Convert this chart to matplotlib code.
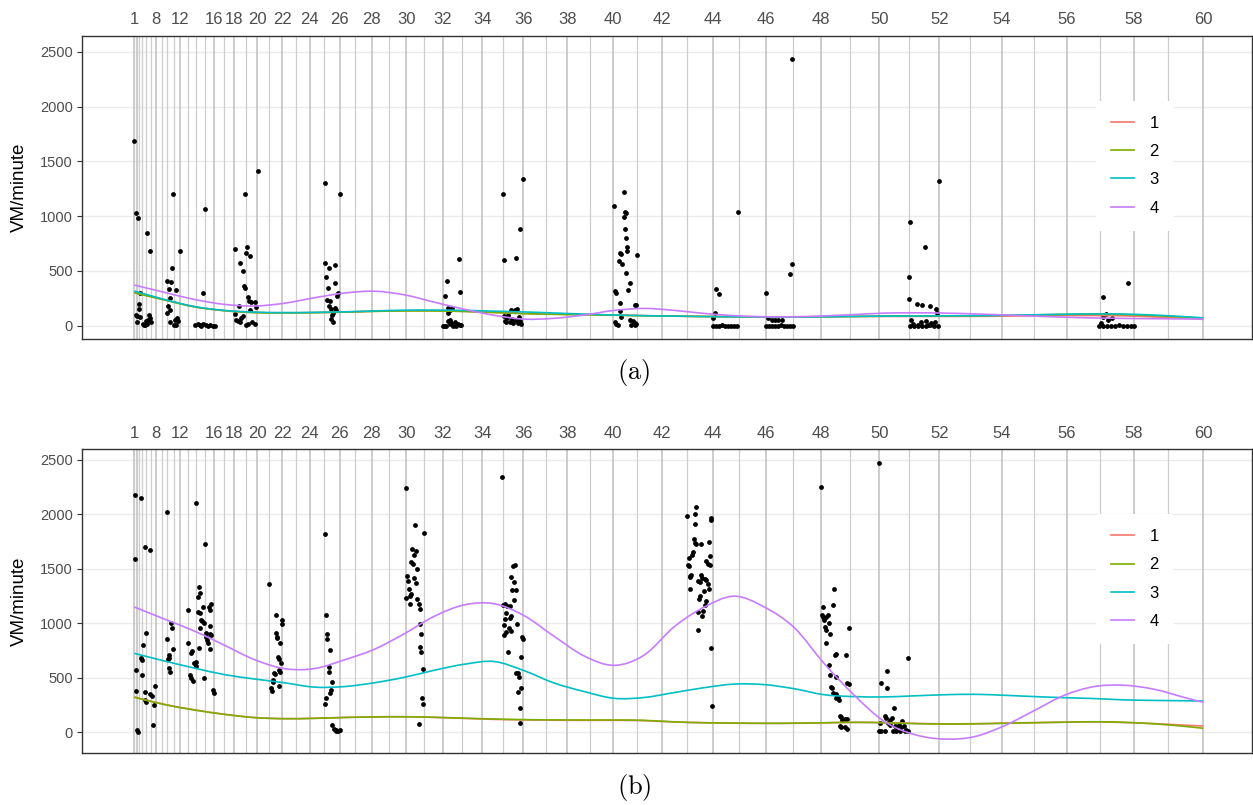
import matplotlib
matplotlib.use("Agg")
import matplotlib.pyplot as plt
from matplotlib.path import Path
from matplotlib.patches import PathPatch
from matplotlib.lines import Line2D

plt.rcParams['font.family'] = ['Liberation Sans', 'DejaVu Sans']
plt.rcParams['mathtext.fontset'] = 'cm'

# session times (days since session 1), sessions 1..60
session_day = [0.0, 0.13, 0.29, 0.49, 0.77, 1.17, 1.67, 2.17, 2.74, 3.30,
               3.94, 4.57, 5.34, 6.20, 7.07, 8.00, 9.00, 10.00, 11.14, 12.30,
               13.50, 14.80, 16.14, 17.54, 19.00, 20.54, 22.10, 23.74, 25.44, 27.20,
               29.00, 30.87, 32.80, 34.80, 36.84, 38.90, 41.14, 43.30, 45.57, 47.90,
               50.30, 52.77, 55.30, 57.84, 60.50, 63.17, 65.84, 68.64, 71.57, 74.50,
               77.50, 80.50, 83.57, 86.74, 89.97, 93.24, 96.57, 99.97, 103.40, 106.90]
label_sessions = [1, 8, 12, 16, 18, 20, 22, 24, 26, 28, 30, 32, 34, 36, 38, 40,
                  42, 44, 46, 48, 50, 52, 54, 56, 58, 60]

# smoothed curves, evaluated on curve_day
curve_day = [0, 3, 6, 9, 12, 15, 18, 21, 24, 27, 30, 33, 36, 39, 42, 45, 48, 51,
             54, 57, 60, 63, 66, 69, 72, 75, 78, 81, 84, 87, 90, 93, 96, 99, 102,
             105, 106.9]

a_curve1 = [305, 238, 174, 138, 121, 118, 120, 125, 132, 136, 136, 131, 122, 112,
            105, 101, 97, 92, 88, 85, 83, 81, 81, 82, 84, 85, 85, 85, 86, 88, 90,
            92, 93, 90, 80, 68, 58]
a_curve2 = [300, 235, 172, 137, 120, 117, 119, 124, 131, 135, 135, 130, 120, 110,
            104, 100, 96, 91, 87, 84, 82, 80, 80, 82, 85, 87, 88, 89, 91, 95, 99,
            103, 105, 102, 92, 78, 66]
a_curve3 = [316, 240, 175, 140, 124, 120, 122, 127, 135, 142, 143, 140, 133, 126,
            116, 106, 98, 92, 88, 84, 82, 80, 80, 82, 85, 88, 89, 90, 92, 95, 100,
            105, 108, 106, 97, 83, 72]
a_curve4 = [371, 305, 240, 195, 180, 205, 255, 298, 315, 282, 215, 150, 95, 60,
            68, 98, 140, 158, 140, 112, 92, 82, 82, 90, 102, 115, 118, 115, 108, 98,
            88, 78, 71, 67, 64, 62, 61]

b_curve1 = [325, 257, 207, 166, 136, 126, 129, 137, 142, 143, 137, 128, 119, 114,
            111, 110, 110, 107, 95, 88, 84, 82, 83, 87, 91, 89, 82, 78, 79, 84, 89,
            93, 96, 90, 80, 66, 58]
b_curve2 = [322, 255, 205, 165, 135, 125, 128, 136, 141, 143, 138, 130, 122, 117,
            114, 113, 113, 110, 96, 88, 85, 83, 84, 88, 92, 88, 80, 76, 78, 83, 88,
            93, 97, 92, 78, 55, 37]
b_curve3 = [725, 655, 590, 530, 490, 455, 415, 420, 455, 505, 570, 625, 650, 565,
            452, 374, 312, 320, 365, 410, 443, 438, 400, 345, 328, 325, 335, 345,
            349, 340, 328, 318, 310, 298, 293, 290, 287]
b_curve4 = [1150, 1040, 930, 800, 668, 585, 585, 665, 762, 905, 1065, 1170, 1180,
            1070, 880, 700, 615, 710, 970, 1150, 1250, 1150, 960, 630, 340, 100, -20,
            -62, -40, 60, 200, 340, 420, 432, 395, 320, 275]

# observed points, panel (a)
a_day = [0.0, 0.2, 0.4, 1.3, 1.6, 0.6, 0.5, 0.5, 0.2, 0.3, 0.6, 0.3, 0.9, 1.1, 1.2,
         1.5, 1.6, 1.4, 1.7, 1.0, 1.3,
         3.9, 4.6, 3.8, 3.3, 3.7, 3.5, 4.2, 3.6, 3.4, 3.6, 3.3, 3.6, 4.1, 4.3, 4.4,
         4.2, 4.0,
         7.1, 6.9, 6.1, 6.4, 6.6, 6.7, 6.9, 7.2, 7.4, 7.6, 7.9, 8.1,
         12.4, 11.1, 10.1, 11.3, 11.2, 11.6, 10.6, 10.9, 11.0, 11.1, 11.4, 11.5,
         11.7, 12.1, 10.5, 12.2, 11.6, 10.1, 10.2, 10.7, 10.9, 10.6, 10.4, 11.4,
         11.8, 12.1, 11.2,
         19.1, 20.6, 19.1, 19.5, 20.1, 19.2, 20.1, 19.4, 20.4, 20.3, 19.3, 19.6,
         19.5, 19.7, 19.9, 20.1, 20.2, 19.8, 19.7, 19.9,
         32.5, 31.3, 31.1, 32.6, 31.4, 31.6, 31.8, 31.4, 30.9, 31.1, 31.2, 31.6,
         31.7, 32.1, 32.4, 32.6, 32.7, 32.2, 31.9, 31.4, 31.6,
         36.9, 38.9, 38.6, 38.2, 37.0, 37.7, 38.1, 38.3, 37.4, 37.0, 38.5, 38.2,
         37.1, 37.2, 37.6, 37.9, 38.4, 38.7, 38.6, 37.8, 37.3,
         48.0, 49.0, 49.1, 49.2, 49.0, 49.1, 49.2, 48.6, 48.7, 49.3, 49.3, 50.3,
         48.5, 48.8, 49.2, 49.6, 49.4, 48.1, 48.2, 48.6, 50.1, 50.2, 48.6, 48.7,
         48.1, 48.2, 48.4, 49.9, 50.1, 49.6, 49.7, 50.1, 50.2,
         58.2, 58.5, 58.1, 57.9, 60.4, 57.9, 58.2, 58.5, 58.8, 59.1, 59.4, 59.7,
         60.0, 60.3,
         63.2, 63.4, 63.8, 64.1, 64.4, 64.8, 65.6, 65.8, 65.8, 63.2, 63.5, 63.8,
         64.1, 64.4, 64.7, 65.0, 65.3, 65.6, 65.9,
         80.5, 77.6, 79.1, 77.5, 77.5, 78.3, 78.8, 79.6, 80.2, 80.3, 77.7, 77.9,
         78.4, 78.7, 79.2, 79.4, 79.7, 80.1, 77.6, 78.0, 78.4, 78.8, 79.2, 79.6,
         80.0, 80.4,
         96.9, 99.4, 97.2, 97.4, 97.8, 96.9, 96.7, 96.5, 96.9, 97.3, 97.7, 98.1,
         98.5, 98.9, 99.3, 99.7, 100.0]
a_val = [1685, 1025, 985, 848, 684, 301, 198, 156, 100, 90, 80, 36, 15, 10, 40,
         100, 75, 55, 30, 5, 20,
         1200, 684, 523, 410, 401, 334, 330, 250, 180, 140, 120, 36, 50, 70, 40,
         10, 5,
         1067, 295, 5, 15, 10, 0, 20, 5, 0, 3, 2, 0,
         1411, 1200, 696, 720, 660, 635, 574, 499, 362, 340, 259, 230, 215, 220,
         180, 173, 143, 107, 50, 75, 90, 30, 40, 20, 30, 15, 10,
         1305, 1200, 569, 523, 553, 447, 386, 341, 295, 270, 234, 225, 180, 150,
         120, 160, 140, 100, 60, 35,
         611, 407, 271, 307, 158, 143, 158, 118, 0, 0, 0, 15, 25, 30, 20, 10, 5,
         0, 0, 45, 50,
         1198, 1337, 881, 617, 602, 143, 143, 150, 97, 88, 77, 52, 45, 35, 30, 25,
         25, 20, 40, 60, 70,
         1094, 1219, 1034, 1025, 993, 879, 802, 665, 650, 715, 684, 644, 592, 562,
         483, 387, 323, 316, 295, 210, 189, 189, 137, 82, 30, 15, 5, 40, 25, 50,
         10, 5, 15,
         337, 286, 113, 67, 1034, 0, 2, 0, 3, 0, 1, 0, 2, 0,
         301, 73, 52, 52, 52, 52, 469, 560, 2430, 0, 2, 0, 1, 0, 3, 0, 1, 0, 2,
         1316, 943, 717, 447, 241, 200, 190, 184, 152, 113, 50, 20, 10, 30, 40, 10,
         25, 30, 0, 2, 0, 1, 0, 3, 0, 1,
         259, 392, 107, 52, 73, 82, 27, 0, 2, 0, 1, 0, 3, 0, 1, 0, 2]

# observed points, panel (b)
b_day = [0.1, 0.7, 1.1, 1.6, 0.1, 1.2, 0.9, 0.7, 0.8, 0.2, 0.8, 0.2, 1.1, 1.1,
         1.2, 1.6, 1.8, 2.1, 2.0, 1.9, 0.3, 0.4,
         3.3, 3.7, 3.8, 3.3, 3.9, 3.5, 3.5, 3.4, 3.5, 3.6,
         6.2, 7.1, 6.5, 6.6, 6.4, 7.5, 7.6, 5.4, 6.4, 6.6, 6.9, 7.7, 6.7, 6.8, 7.0,
         6.6, 7.6, 7.2, 7.2, 7.3, 7.6, 7.7, 7.4, 7.6, 6.5, 5.4, 5.8, 5.7, 6.2, 6.0,
         6.2, 5.6, 5.7, 5.9, 7.0, 7.9, 8.0,
         13.5, 14.2, 14.8, 14.8, 14.2, 14.3, 14.3, 14.6, 14.4, 14.5, 14.7, 14.5,
         14.6, 14.0, 14.1, 13.9, 13.9, 13.7, 13.8, 14.5,
         19.1, 19.2, 19.3, 19.3, 19.6, 19.5, 19.5, 19.8, 19.7, 19.6, 19.2, 19.1,
         19.8, 20.0, 20.2, 20.6, 20.4, 20.2,
         27.2, 28.1, 29.0, 27.8, 28.2, 28.0, 27.7, 27.9, 28.3, 27.3, 27.4, 27.5,
         28.0, 28.2, 27.2, 27.6, 27.7, 27.6, 28.3, 28.5, 28.6, 28.6, 28.7, 28.6,
         28.7, 28.9, 28.8, 28.9, 28.5,
         36.8, 37.9, 38.1, 37.7, 38.0, 37.8, 38.2, 38.0, 36.9, 37.1, 37.3, 37.6,
         37.2, 37.7, 37.6, 37.1, 38.3, 37.0, 37.5, 37.2, 37.7, 37.0, 38.8, 38.9,
         37.4, 38.7, 38.2, 38.4, 38.5, 38.7, 38.4, 38.6, 38.6,
         56.2, 56.1, 55.3, 57.7, 57.7, 56.1, 56.0, 56.1, 56.2, 56.7, 57.5, 55.9,
         55.8, 55.5, 57.6, 57.2, 57.4, 57.6, 55.4, 55.5, 55.6, 55.6, 55.7, 56.7,
         56.8, 57.1, 57.2, 56.4, 56.6, 57.4, 55.6, 57.5, 57.0, 56.6, 56.5, 57.2,
         57.1, 56.4, 56.9, 56.8, 56.4, 57.7, 57.8,
         68.7, 70.0, 68.9, 69.9, 68.8, 68.9, 69.2, 69.4, 69.0, 69.5, 69.1, 69.2,
         69.6, 69.2, 71.5, 70.2, 70.1, 71.2, 69.5, 69.6, 70.2, 71.3, 71.5, 69.7,
         69.8, 69.9, 70.2, 70.4, 70.2, 70.5, 70.6, 70.7, 71.1, 71.3, 70.8, 70.7,
         71.1, 71.3, 70.6,
         74.5, 74.7, 75.3, 75.3, 77.4, 76.0, 75.1, 75.2, 75.6, 75.8, 74.6, 75.4,
         75.6, 76.1, 76.2, 76.5, 76.7, 76.8, 77.0, 77.2, 74.5, 74.7, 75.1, 75.9,
         76.2, 76.6, 77.1, 77.4]
b_val = [2178, 2151, 1700, 1670, 1590, 908, 801, 679, 664, 572, 526, 382, 370,
         297, 281, 355, 330, 425, 247, 67, 21, 6,
         2022, 1006, 954, 853, 762, 709, 679, 670, 587, 557,
         2102, 1730, 1330, 1280, 1240, 1150, 1120, 1123, 1107, 1092, 1147, 1180,
         1031, 1025, 1000, 954, 976, 908, 878, 847, 899, 893, 817, 762, 777, 817,
         750, 725, 649, 633, 612, 526, 496, 471, 496, 388, 364,
         1360, 1077, 1031, 994, 908, 878, 863, 823, 695, 670, 633, 572, 557, 548,
         540, 480, 465, 404, 382, 425,
         1820, 1074, 903, 857, 755, 603, 554, 465, 389, 358, 318, 260, 67, 27, 21,
         21, 15, 10,
         2245, 1903, 1832, 1680, 1664, 1628, 1566, 1545, 1499, 1435, 1389, 1315,
         1419, 1368, 1230, 1251, 1267, 1175, 1224, 1178, 1130, 992, 902, 786, 734,
         584, 312, 257, 73,
         2344, 1530, 1536, 1423, 1383, 1306, 1306, 1217, 1169, 1178, 1162, 1160,
         1093, 1070, 1047, 1040, 992, 983, 955, 924, 930, 893, 877, 853, 740, 694,
         547, 541, 505, 410, 373, 220, 88,
         2065, 2004, 1986, 1970, 1949, 1909, 1775, 1735, 1729, 1726, 1747, 1652,
         1628, 1597, 1618, 1573, 1545, 1536, 1536, 1527, 1438, 1423, 1444, 1444,
         1419, 1405, 1398, 1389, 1383, 1359, 1315, 1315, 1297, 1254, 1221, 1205,
         1169, 1107, 1114, 1068, 939, 777, 244,
         2249, 1315, 1153, 1171, 1077, 1061, 1061, 1077, 1031, 1006, 964, 939, 900,
         823, 960, 719, 710, 710, 621, 526, 505, 455, 441, 419, 404, 358, 349, 327,
         312, 297, 150, 138, 119, 125, 113, 52, 46, 27, 58,
         2469, 450, 566, 404, 682, 226, 150, 128, 113, 128, 88, 82, 67, 58, 52, 67,
         46, 101, 58, 21, 12, 10, 12, 8, 10, 12, 10, 8]

colors = ['#F8766D', '#7CAE00', '#00BFC4', '#C77CFF']
names = ['1', '2', '3', '4']


def smooth_path(xs, ys):
    # cubic bezier segments through every read value (catmull-rom tangents)
    n = len(xs)
    verts = [(xs[0], ys[0])]
    codes = [Path.MOVETO]
    for i in range(n - 1):
        p0 = (xs[max(i - 1, 0)], ys[max(i - 1, 0)])
        p1 = (xs[i], ys[i])
        p2 = (xs[i + 1], ys[i + 1])
        p3 = (xs[min(i + 2, n - 1)], ys[min(i + 2, n - 1)])
        c1 = (p1[0] + (p2[0] - p0[0]) / 6, p1[1] + (p2[1] - p0[1]) / 6)
        c2 = (p2[0] - (p3[0] - p1[0]) / 6, p2[1] - (p3[1] - p1[1]) / 6)
        verts += [c1, c2, p2]
        codes += [Path.CURVE4, Path.CURVE4, Path.CURVE4]
    return Path(verts, codes)


fig = plt.figure(figsize=(12.53, 8.05), dpi=100)
ax_a = fig.add_axes([82 / 1253, 1 - 339 / 805, 1170 / 1253, 303.3 / 805])
ax_b = fig.add_axes([82 / 1253, 1 - 752.7 / 805, 1170 / 1253, 303.4 / 805])

panels = [
    (ax_a, a_day, a_val, [a_curve1, a_curve2, a_curve3, a_curve4], (-121, 2646), '(a)', 372),
    (ax_b, b_day, b_val, [b_curve1, b_curve2, b_curve3, b_curve4], (-187, 2598), '(b)', 787),
]

for ax, pdays, pvals, curves, ylim, cap, cap_y in panels:
    ax.set_facecolor('white')
    for y in [0, 500, 1000, 1500, 2000, 2500]:
        ax.axhline(y, color='#EBEBEB', lw=1.0, zorder=0)
    for i, d in enumerate(session_day):
        if (i + 1) in label_sessions:
            ax.axvline(d, color='#BEBEBE', lw=1.1, zorder=1)
        else:
            ax.axvline(d, color='#CDCDCD', lw=0.9, zorder=1)

    ax.scatter(pdays, pvals, s=12, color='black', linewidths=0, zorder=3)
    handles = []
    for c, col, nm in zip(curves, colors, names):
        ax.add_patch(PathPatch(smooth_path(curve_day, c), fill=False,
                               edgecolor=col, lw=1.2, zorder=4))
        handles.append(Line2D([], [], color=col, lw=1.2, label=nm))

    ax.set_xlim(-5.23, 111.77)
    ax.set_ylim(*ylim)
    ax.set_yticks([0, 500, 1000, 1500, 2000, 2500])
    ax.tick_params(axis='y', length=3.5, width=0.8, color='#333333',
                   labelcolor='#4D4D4D', labelsize=10.5, pad=3)
    ax.xaxis.tick_top()
    ax.set_xticks([session_day[s - 1] for s in label_sessions])
    ax.set_xticklabels([str(s) for s in label_sessions])
    ax.tick_params(axis='x', length=0, labelcolor='#4D4D4D', labelsize=12, pad=6)
    for sp in ax.spines.values():
        sp.set_color('#333333')
        sp.set_linewidth(1.0)
    ax.set_ylabel('VM/minute', fontsize=13.5, color='black')
    ax.yaxis.set_label_coords(-0.046, 0.5)

    leg = ax.legend(handles=handles, loc='center', bbox_to_anchor=(0.9, 0.572),
                    frameon=True, fontsize=12, handlelength=1.4, handletextpad=0.9,
                    labelspacing=0.8, borderpad=0.9)
    leg.get_frame().set_facecolor('white')
    leg.get_frame().set_edgecolor('none')
    leg.get_frame().set_alpha(1)
    leg.set_zorder(5)

    fig.text(634 / 1253, 1 - cap_y / 805, r'$\mathrm{' + cap + '}$', fontsize=19,
             ha='center', va='center')

fig.savefig('out.png', dpi=100)
